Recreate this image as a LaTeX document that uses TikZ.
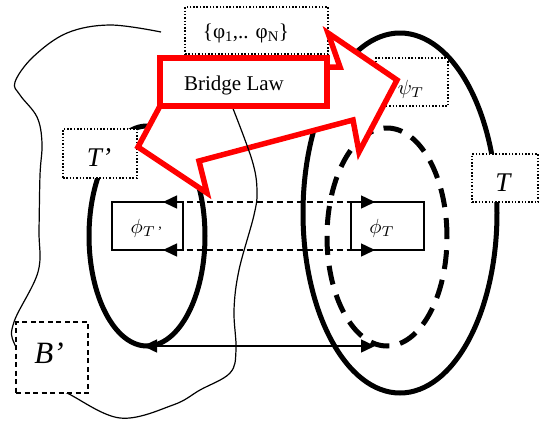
\documentclass[tikz,border=0pt]{standalone}
\usepackage{amsmath}
\usepackage{graphicx}
\usepackage{fontspec}
\setmainfont{Liberation Serif}
\usetikzlibrary{arrows.meta,shapes.geometric}
\begin{document}
\begin{tikzpicture}[x=1pt,y=-1pt,
  thickell/.style={draw, ellipse, line width=5pt, inner sep=0pt, outer sep=0pt},
  dotbox/.style={draw, line width=1.5pt, dash pattern=on 1.5pt off 1.8pt, fill=white, inner sep=0pt, outer sep=0pt},
  solidbox/.style={draw, line width=1.8pt, fill=white, inner sep=0pt, outer sep=0pt},
  dashbox/.style={draw, line width=1.5pt, dash pattern=on 5pt off 3.5pt, fill=white, inner sep=0pt, outer sep=0pt},
  redline/.style={draw=red, line width=5.5pt, line join=miter},
  headtips/.style={{Triangle[length=14pt,width=13pt]}-{Triangle[length=14pt,width=13pt]}},
  dasharrow/.style={line width=1.5pt, dash pattern=on 6pt off 4pt, headtips},
  solidarrow/.style={line width=1.5pt, headtips},
  thincurve/.style={line width=1.2pt},
  midtext/.style={font=\fontsize{21}{25}\selectfont, inner sep=0pt},
  bigtext/.style={font=\fontsize{27}{32}\selectfont\itshape, inner sep=0pt},
  mathtext/.style={inner sep=0pt}
]
\useasboundingbox (0,0) rectangle (539,421);

% ellipses
\node[thickell, minimum width=194pt, minimum height=360pt] (bigell) at (400,213) {};
\node[thickell, dash pattern=on 19pt off 11pt, minimum width=120pt, minimum height=218pt] (dashell) at (387,237) {};
\node[thickell, minimum width=116pt, minimum height=220pt] (leftell) at (147,236) {};

% small boxes
\node[solidbox, minimum width=71pt, minimum height=48pt] (phiTp) at (147.5,226) {};
\node[mathtext] (phiTptext) at (147,228) {\scalebox{2.05}{$\phi_{T\,\text{’}}$}};
\node[solidbox, minimum width=73pt, minimum height=48pt] (phiT) at (387.5,226) {};
\node[mathtext] (phiTtext) at (382,228) {\scalebox{2.05}{$\phi_{T}$}};

% arrows between the boxes
\draw[dasharrow] ([xshift=-20pt]phiTp.north east) -- ([xshift=24pt]phiT.north west);
\draw[dasharrow] ([xshift=-20pt]phiTp.south east) -- ([xshift=24pt]phiT.south west);
\draw[solidarrow] ([xshift=-4pt]leftell.south) -- ([xshift=-12pt]dashell.south);

% dotted boxes
\node[dotbox, minimum width=72pt, minimum height=48pt] (psibox) at (412,82) {};
\node[mathtext] (psitext) at (411,89) {\scalebox{2.05}{$\psi_T$}};
\node[dotbox, minimum width=143pt, minimum height=47pt] (phiset) at (256.5,30.5) {};
\node[midtext] (phisettext) at (246,33) {\{φ\textsubscript{1},.. φ\textsubscript{N}\}};
\node[dotbox, minimum width=74pt, minimum height=49pt] (Tpbox) at (100,153.5) {};
\node[bigtext] (Tptext) at (99,157.5) {T’};
\node[dotbox, minimum width=66pt, minimum height=48pt] (Tbox) at (505,178) {};
\node[bigtext] (Ttext) at (503,183) {T};

% red bent arrow
\filldraw[redline, fill=white] (160,106) -- (138,147) -- (207,193) -- (199,161) -- (353,120) -- (359,152) -- (397,80) -- (328,33) -- (340,67) -- (327,67);

% thin boundary curve
\draw[thincurve] plot[smooth, tension=0.6] coordinates {(161,32) (110,25) (67,33) (33,57) (15,82) (20,95) (37,117) (42,143) (40,175) (39,230) (38,272) (14,322) (15,345) (40,380) (67,393) (120,418) (173,405) (200,390) (230,373) (236,350) (234,310) (239,270) (254,215) (257,190) (252,160) (232,106)};

% B' box
\node[dashbox, minimum width=72pt, minimum height=71pt] (Bpbox) at (52,357.5) {};
\node[bigtext, font=\fontsize{31}{36}\selectfont\itshape] (Bptext) at (49,353) {B’};

% Bridge law box
\node[draw=red, line width=5.5pt, fill=white, inner sep=0pt, outer sep=0pt, minimum width=167pt, minimum height=48pt] (bridge) at (243.5,82) {};
\node[midtext] (bridgetext) at (234,85) {Bridge Law};
\end{tikzpicture}
\end{document}
